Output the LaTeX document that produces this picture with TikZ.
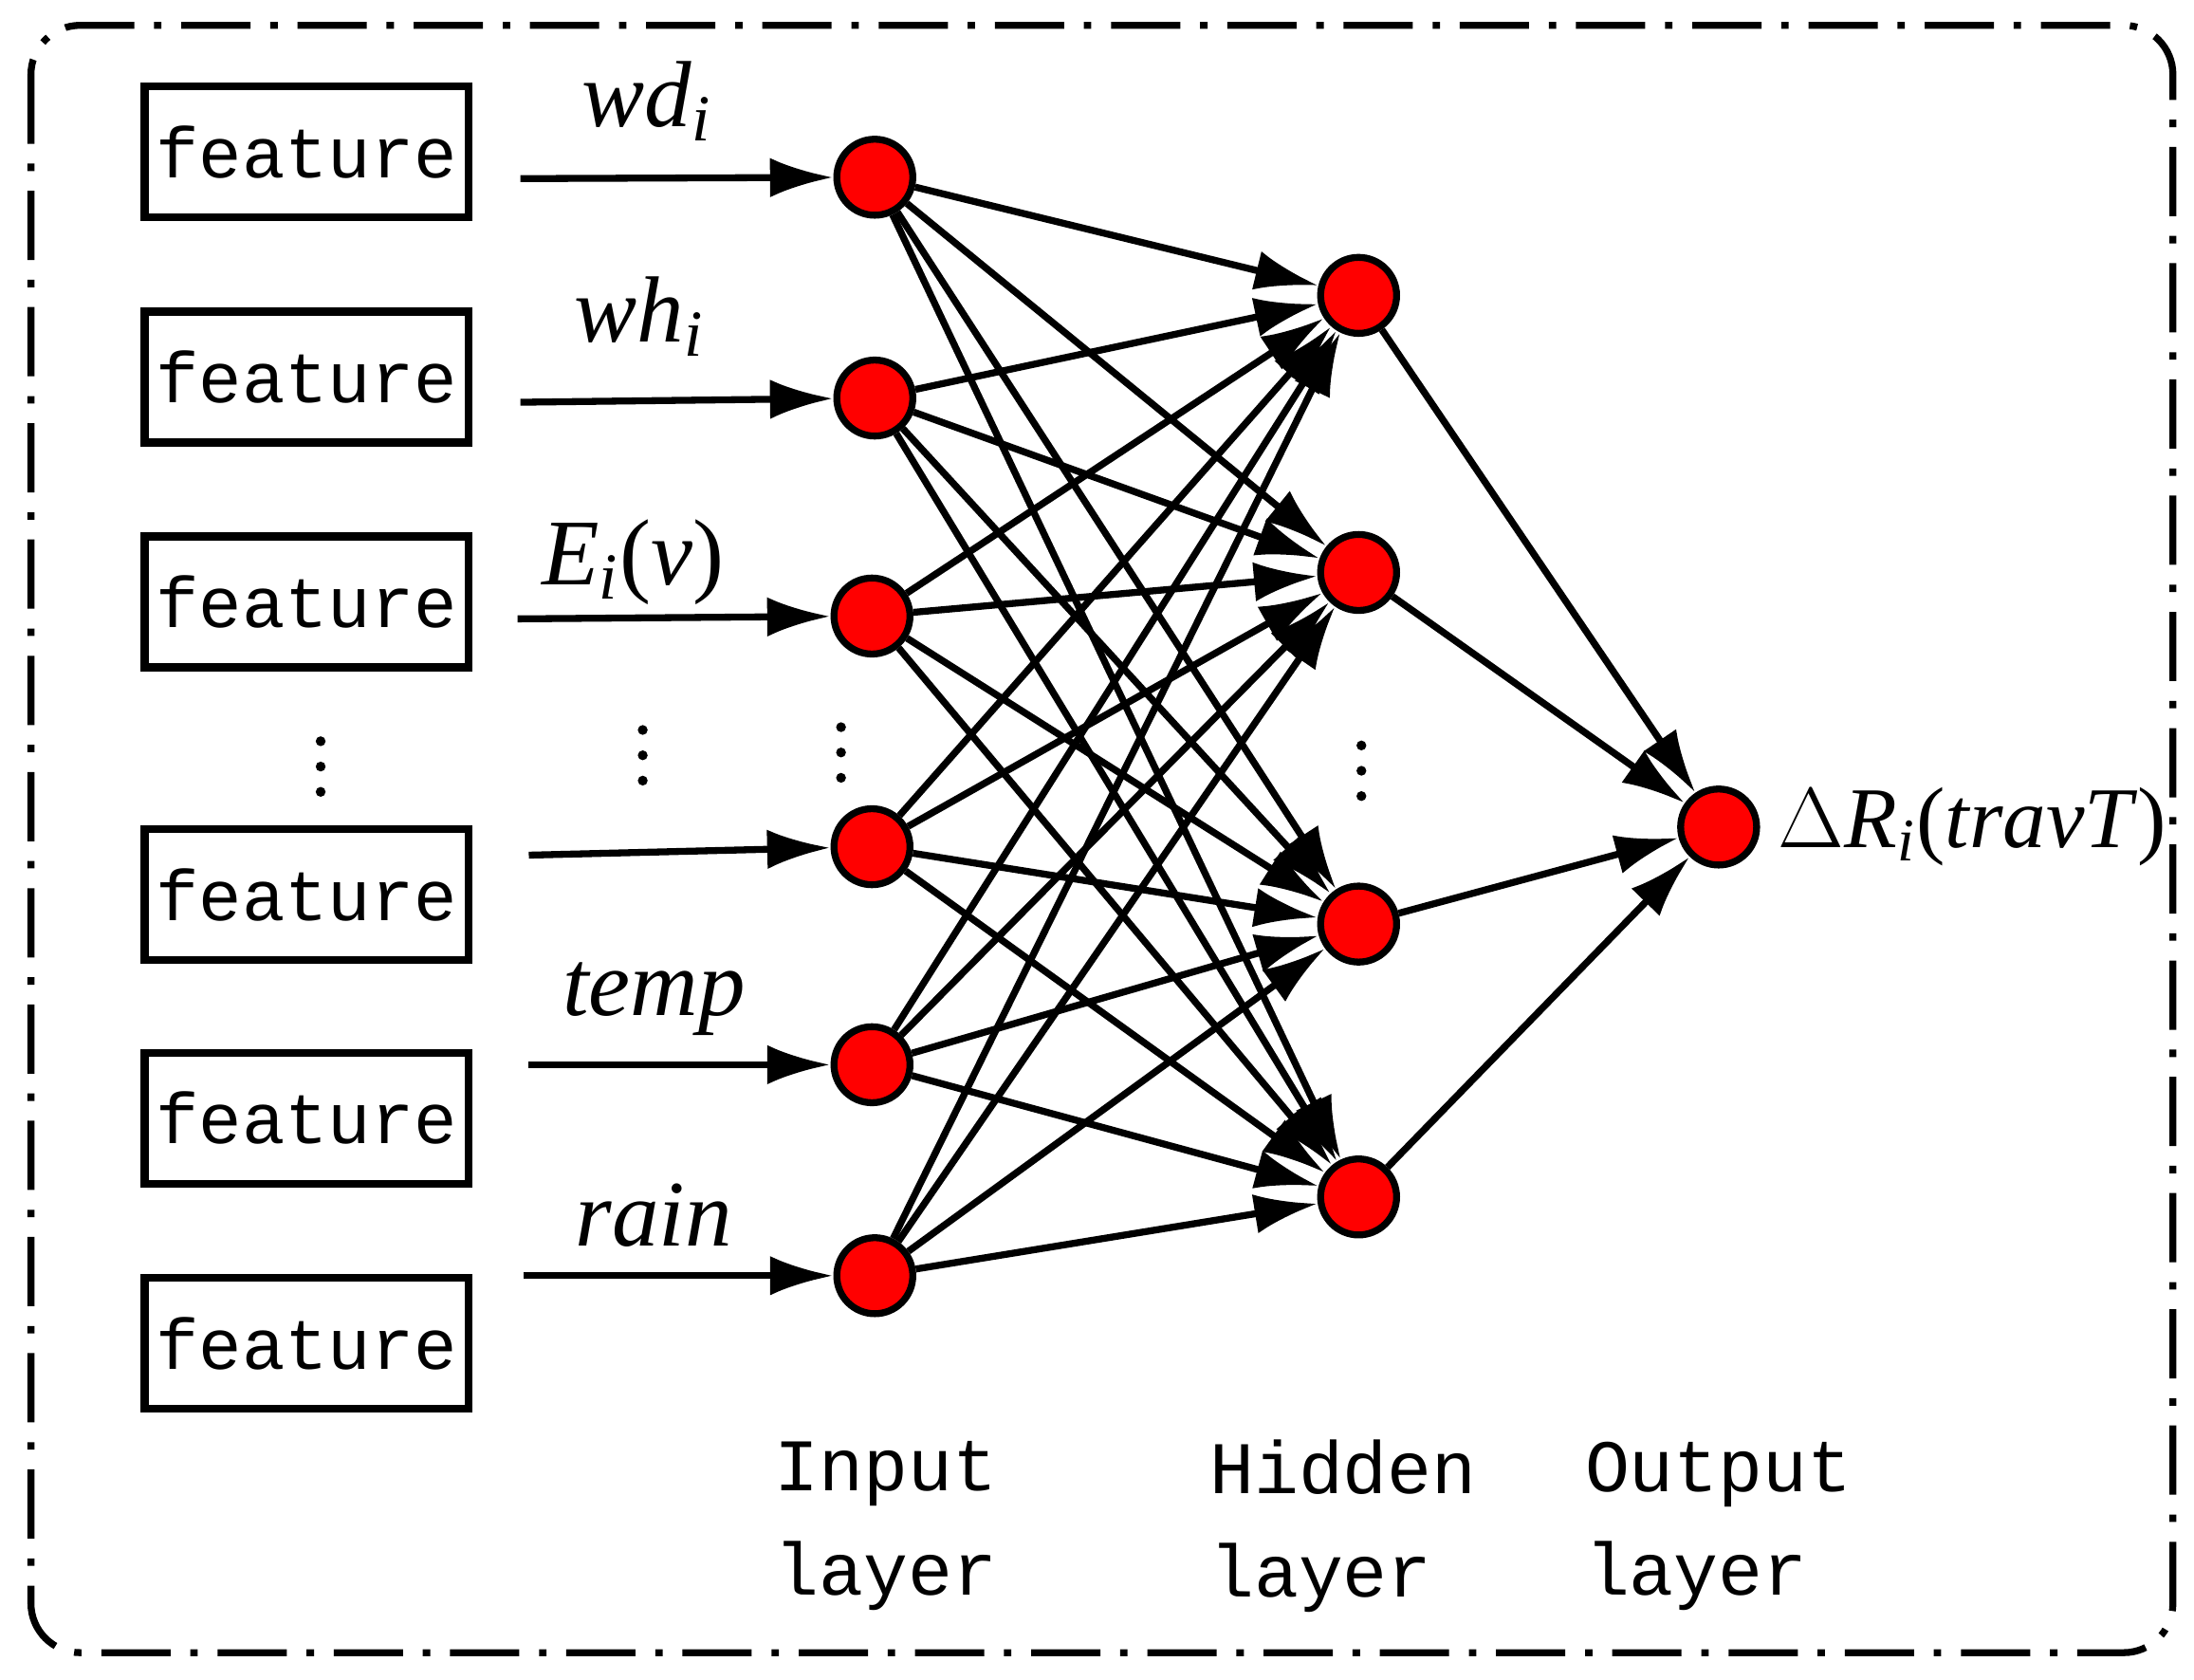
\documentclass[tikz,border=0pt]{standalone}
\usepackage{fontspec}
\setmainfont{Liberation Serif}
\newfontfamily\monof{Liberation Mono}
\usetikzlibrary{arrows.meta}
\newcommand{\iv}[1]{\textit{#1}}
\newcommand{\sbi}{\textsubscript{\textit{i}}}
\begin{document}
\begin{tikzpicture}[x=0.01cm,y=-0.01cm,
  feat/.style={draw,line width=1.6pt,minimum width=2.3cm,minimum height=0.93cm,inner sep=0pt,font=\monof\fontsize{14.5}{14.5}\selectfont},
  neuron/.style={circle,draw,fill=red,line width=1.4pt,minimum size=0.54cm,inner sep=0pt},
  arr/.style={line width=1.4pt,-{Latex[length=0.45cm,width=0.28cm]}},
  lab/.style={font=\fontsize{19}{19}\selectfont},
  layer/.style={font=\monof\fontsize{15}{21}\selectfont,align=left},
  dot/.style={circle,fill,inner sep=0pt,minimum size=0.07cm}]
\useasboundingbox (0,0) rectangle (1560,1194);
\draw[line width=1.4pt,dash pattern=on 14pt off 4pt on 1.5pt off 4pt,rounded corners=0.35cm] (22,18) rectangle (1545,1175);
% feature boxes
\foreach \i/\y in {1/108,2/268,3/428,4/636,5/795,6/955}
  \node[feat] (f\i) at (218,\y) {feature};
% input neurons
\foreach \i/\x/\y in {1/622/126,2/622/283,3/620/438,4/620/602,5/620/757,6/622/907}
  \node[neuron] (i\i) at (\x,\y) {};
\foreach \i/\y in {1/210,2/407,3/657,4/851}
  \node[neuron] (h\i) at (966,\y) {};
\node[neuron] (o) at (1222,588) {};
% input arrows
\foreach \i/\x/\y in {1/370/127,2/370/286,3/368/440,4/376/608,5/376/757,6/372/907}
  {\coordinate (s\i) at (\x,\y); \draw[arr] (s\i) -- (i\i);}
\foreach \i in {1,...,6}\foreach \j in {1,...,4}
  \draw[arr] (i\i) -- (h\j);
\foreach \j in {1,...,4} \draw[arr] (h\j) -- (o);
% labels
\node[lab] at (460,72) {\iv{wd}\sbi};
\node[lab] at (455,225) {\iv{wh}\sbi};
\node[lab] at (450,400) {\iv{E}\sbi(\iv{v})};
\node[lab] at (465,710) {\iv{temp}};
\node[lab] at (465,864) {\iv{rain}};
\node[lab,anchor=west,font=\fontsize{17.5}{17.5}\selectfont] at (1252,588) {$\Delta$\iv{R}\sbi(\iv{travT})};
% dots
\foreach \x/\y in {228/545,457/537,598/535,968/548}
  {\node[dot] at (\x,\y-18) {}; \node[dot] at (\x,\y) {}; \node[dot] at (\x,\y+18) {};}
\node[layer] at (630,1085) {Input\\layer};
\node[layer] at (955,1085) {Hidden\\ layer};
\node[layer] at (1222,1085) {Output\\ layer};
\end{tikzpicture}
\end{document}
